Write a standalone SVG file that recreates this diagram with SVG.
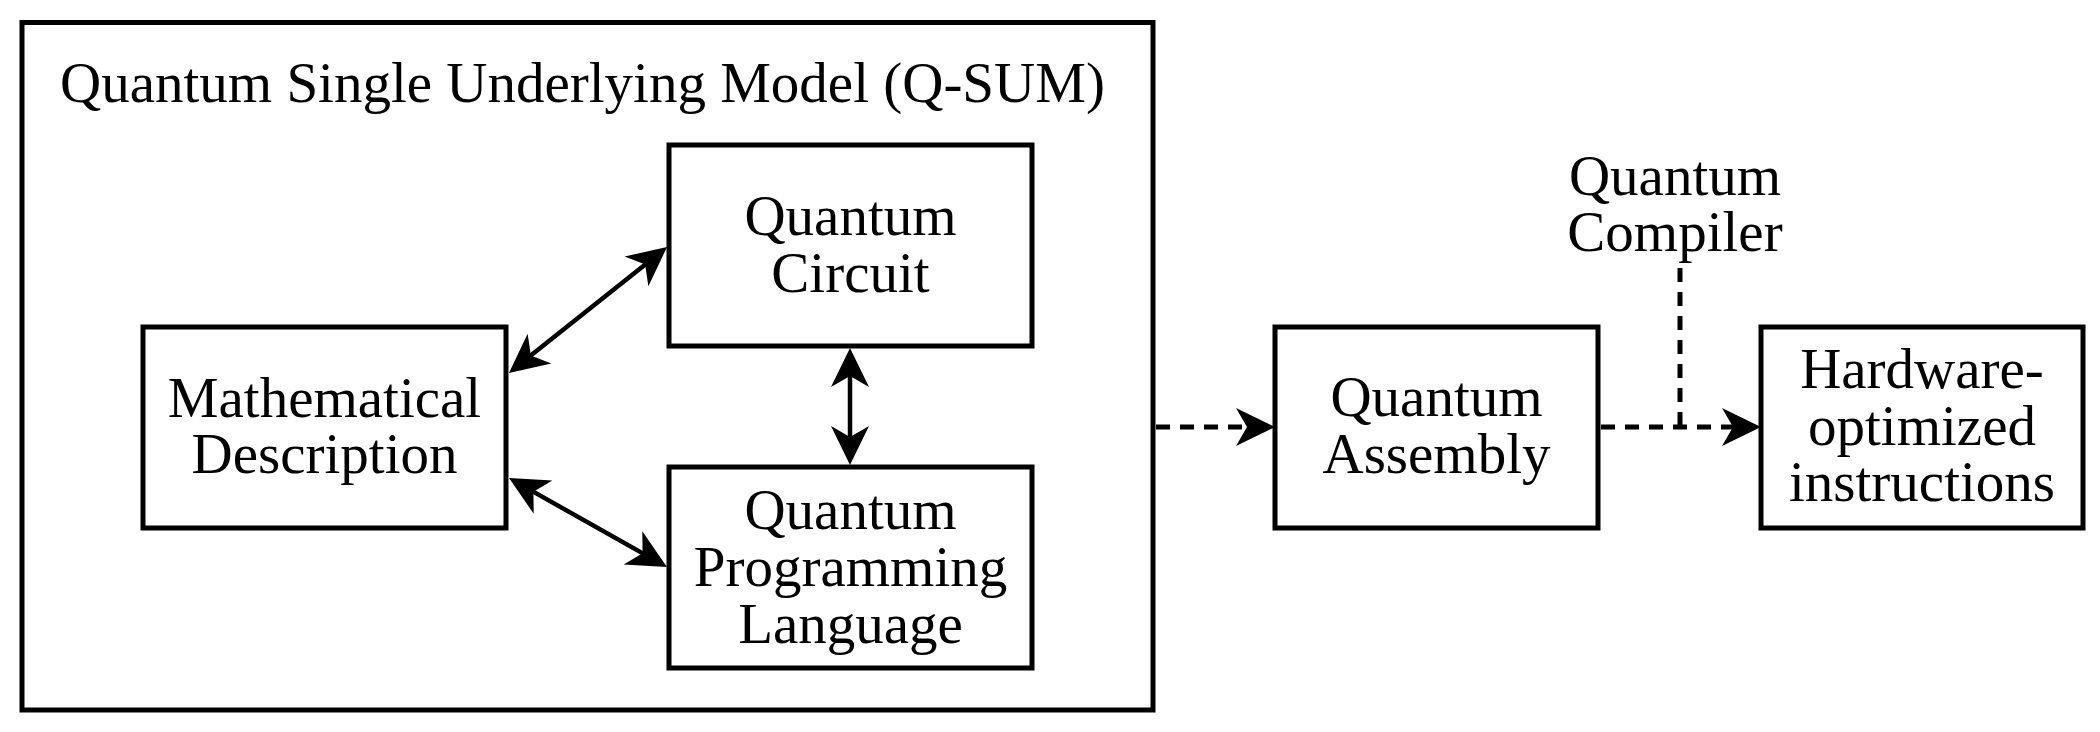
<svg xmlns="http://www.w3.org/2000/svg" width="2100" height="732" viewBox="0 0 2100 732">
<style>
  .box { fill: #fff; stroke: #000; stroke-width: 5; }
  .frame { fill: none; stroke: #000; stroke-width: 5; }
  text { font-family: "Liberation Serif", "Times New Roman", serif; font-size: 57px; fill: #000; }
  .c { text-anchor: middle; }
  .conn { fill: none; stroke: #000; stroke-width: 4.5; }
  .dash { stroke-dasharray: 14 10; stroke-width: 5; }
</style>
<defs>
  <marker id="ah" markerUnits="userSpaceOnUse" orient="auto-start-reverse" overflow="visible" markerWidth="1" markerHeight="1" refX="0" refY="0">
    <path d="M15,0 L-24,-19 L-13,0 L-24,19 Z" fill="#000"/>
  </marker>
</defs>
<rect width="2100" height="732" fill="#fff"/>
<g id="qsum">
  <rect class="frame" x="22" y="22.5" width="1131" height="687.5"/>
  <text x="60" y="102">Quantum Single Underlying Model (Q-SUM)</text>
</g>
<g id="circuit">
  <rect class="box" x="669" y="145" width="363" height="201"/>
  <text class="c" x="850.5" y="235">Quantum</text>
  <text class="c" x="850.5" y="292">Circuit</text>
</g>
<g id="math">
  <rect class="box" x="143" y="327" width="363" height="201"/>
  <text class="c" x="324.5" y="417">Mathematical</text>
  <text class="c" x="324.5" y="473">Description</text>
</g>
<g id="qpl">
  <rect class="box" x="669" y="467" width="363" height="201"/>
  <text class="c" x="850.5" y="529">Quantum</text>
  <text class="c" x="850.5" y="586">Programming</text>
  <text class="c" x="850.5" y="643">Language</text>
</g>
<g id="assembly">
  <rect class="box" x="1275" y="327" width="323" height="201"/>
  <text class="c" x="1436.5" y="416">Quantum</text>
  <text class="c" x="1436.5" y="473">Assembly</text>
</g>
<g id="compiler">
  <text class="c" x="1675" y="195">Quantum</text>
  <text class="c" x="1675" y="251">Compiler</text>
</g>
<g id="hardware">
  <rect class="box" x="1761" y="327" width="322" height="201"/>
  <text class="c" x="1922" y="388">Hardware-</text>
  <text class="c" x="1922" y="445">optimized</text>
  <text class="c" x="1922" y="501">instructions</text>
</g>
<g id="connectors">
  <line class="conn" x1="520.7" y1="363.6" x2="655.3" y2="256.4" marker-start="url(#ah)" marker-end="url(#ah)"/>
  <line class="conn" x1="522.1" y1="485.4" x2="653.9" y2="559.6" marker-start="url(#ah)" marker-end="url(#ah)"/>
  <line class="conn" x1="850" y1="363" x2="850" y2="450" marker-start="url(#ah)" marker-end="url(#ah)"/>
  <line class="conn dash" x1="1156" y1="427" x2="1260" y2="427" marker-end="url(#ah)"/>
  <line class="conn dash" x1="1601" y1="427" x2="1746" y2="427" marker-end="url(#ah)"/>
  <line class="conn dash" x1="1680" y1="268" x2="1680" y2="427"/>
</g>
</svg>
